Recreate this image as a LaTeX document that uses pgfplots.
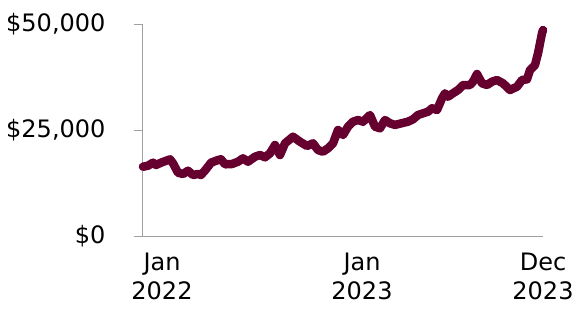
\documentclass[border=0pt]{standalone}
\usepackage{fontspec}
\setmainfont{DejaVu Sans}
\usepackage{pgfplots}
\pgfplotsset{compat=1.18}
\definecolor{maroon}{HTML}{66002E}
\definecolor{axgray}{HTML}{A0A0A0}
\begin{document}
\begin{tikzpicture}
\begin{axis}[
  scale only axis,
  width=400pt, height=212pt,
  xmin=0, xmax=400, ymin=0, ymax=50000,
  scaled y ticks=false,
  axis x line*=bottom, axis y line*=left,
  axis line style={draw=axgray, line width=1pt},
  xtick={19,219,400},
  xticklabels={{Jan\\2022},{Jan\\2023},{Dec\\2023}},
  x tick label style={align=center, yshift=-7pt, inner sep=1pt},
  xtick style={draw=none},
  ytick={0,25000,50000},
  yticklabels={{\$0},{\$25,000},{\$50,000}},
  y tick label style={xshift=-25pt},
  ytick style={draw=axgray, line width=1pt},
  tick align=outside, major tick length=9pt,
  tick label style={font=\fontsize{24}{29}\selectfont},
  clip=false,
]
\addplot[color=maroon, line width=8.5pt, line join=round, line cap=round] coordinates {
(0,16340) (5,16580) (10,17290) (13,16750) (18,17290) (27,18090) (30,17150)
(35,14930) (40,14620) (45,15400) (50,14390) (55,14620) (58,14390) (63,15730)
(68,17290) (75,17920) (78,18090) (82,16910) (89,16980) (95,17520) (100,18320)
(105,17520) (112,18700) (117,19100) (122,18560) (127,19500) (132,21460)
(137,19100) (142,21860) (150,23420) (157,22240) (164,21230) (170,21860)
(175,20280) (180,19880) (185,20680) (190,21860) (195,25000) (200,23820)
(205,25780) (210,26960) (215,27360) (220,26960) (227,28540) (232,25780)
(237,25400) (242,27360) (247,26580) (252,26200) (257,26500) (265,26960)
(270,27520) (275,28540) (280,28930) (285,29320) (289,30120) (294,29720)
(299,32480) (302,33660) (305,32860) (310,33660) (315,34430) (320,35610)
(327,35610) (330,36400) (334,38200) (339,36010) (344,35610) (349,36400)
(354,36790) (360,36010) (367,34430) (374,35220) (379,36790) (384,36950)
(387,39150) (392,40330) (395,43090) (399,47810) (400,48580)
};
\end{axis}
\path (-143pt,-73pt) rectangle (437pt,236pt);
\end{tikzpicture}
\end{document}
